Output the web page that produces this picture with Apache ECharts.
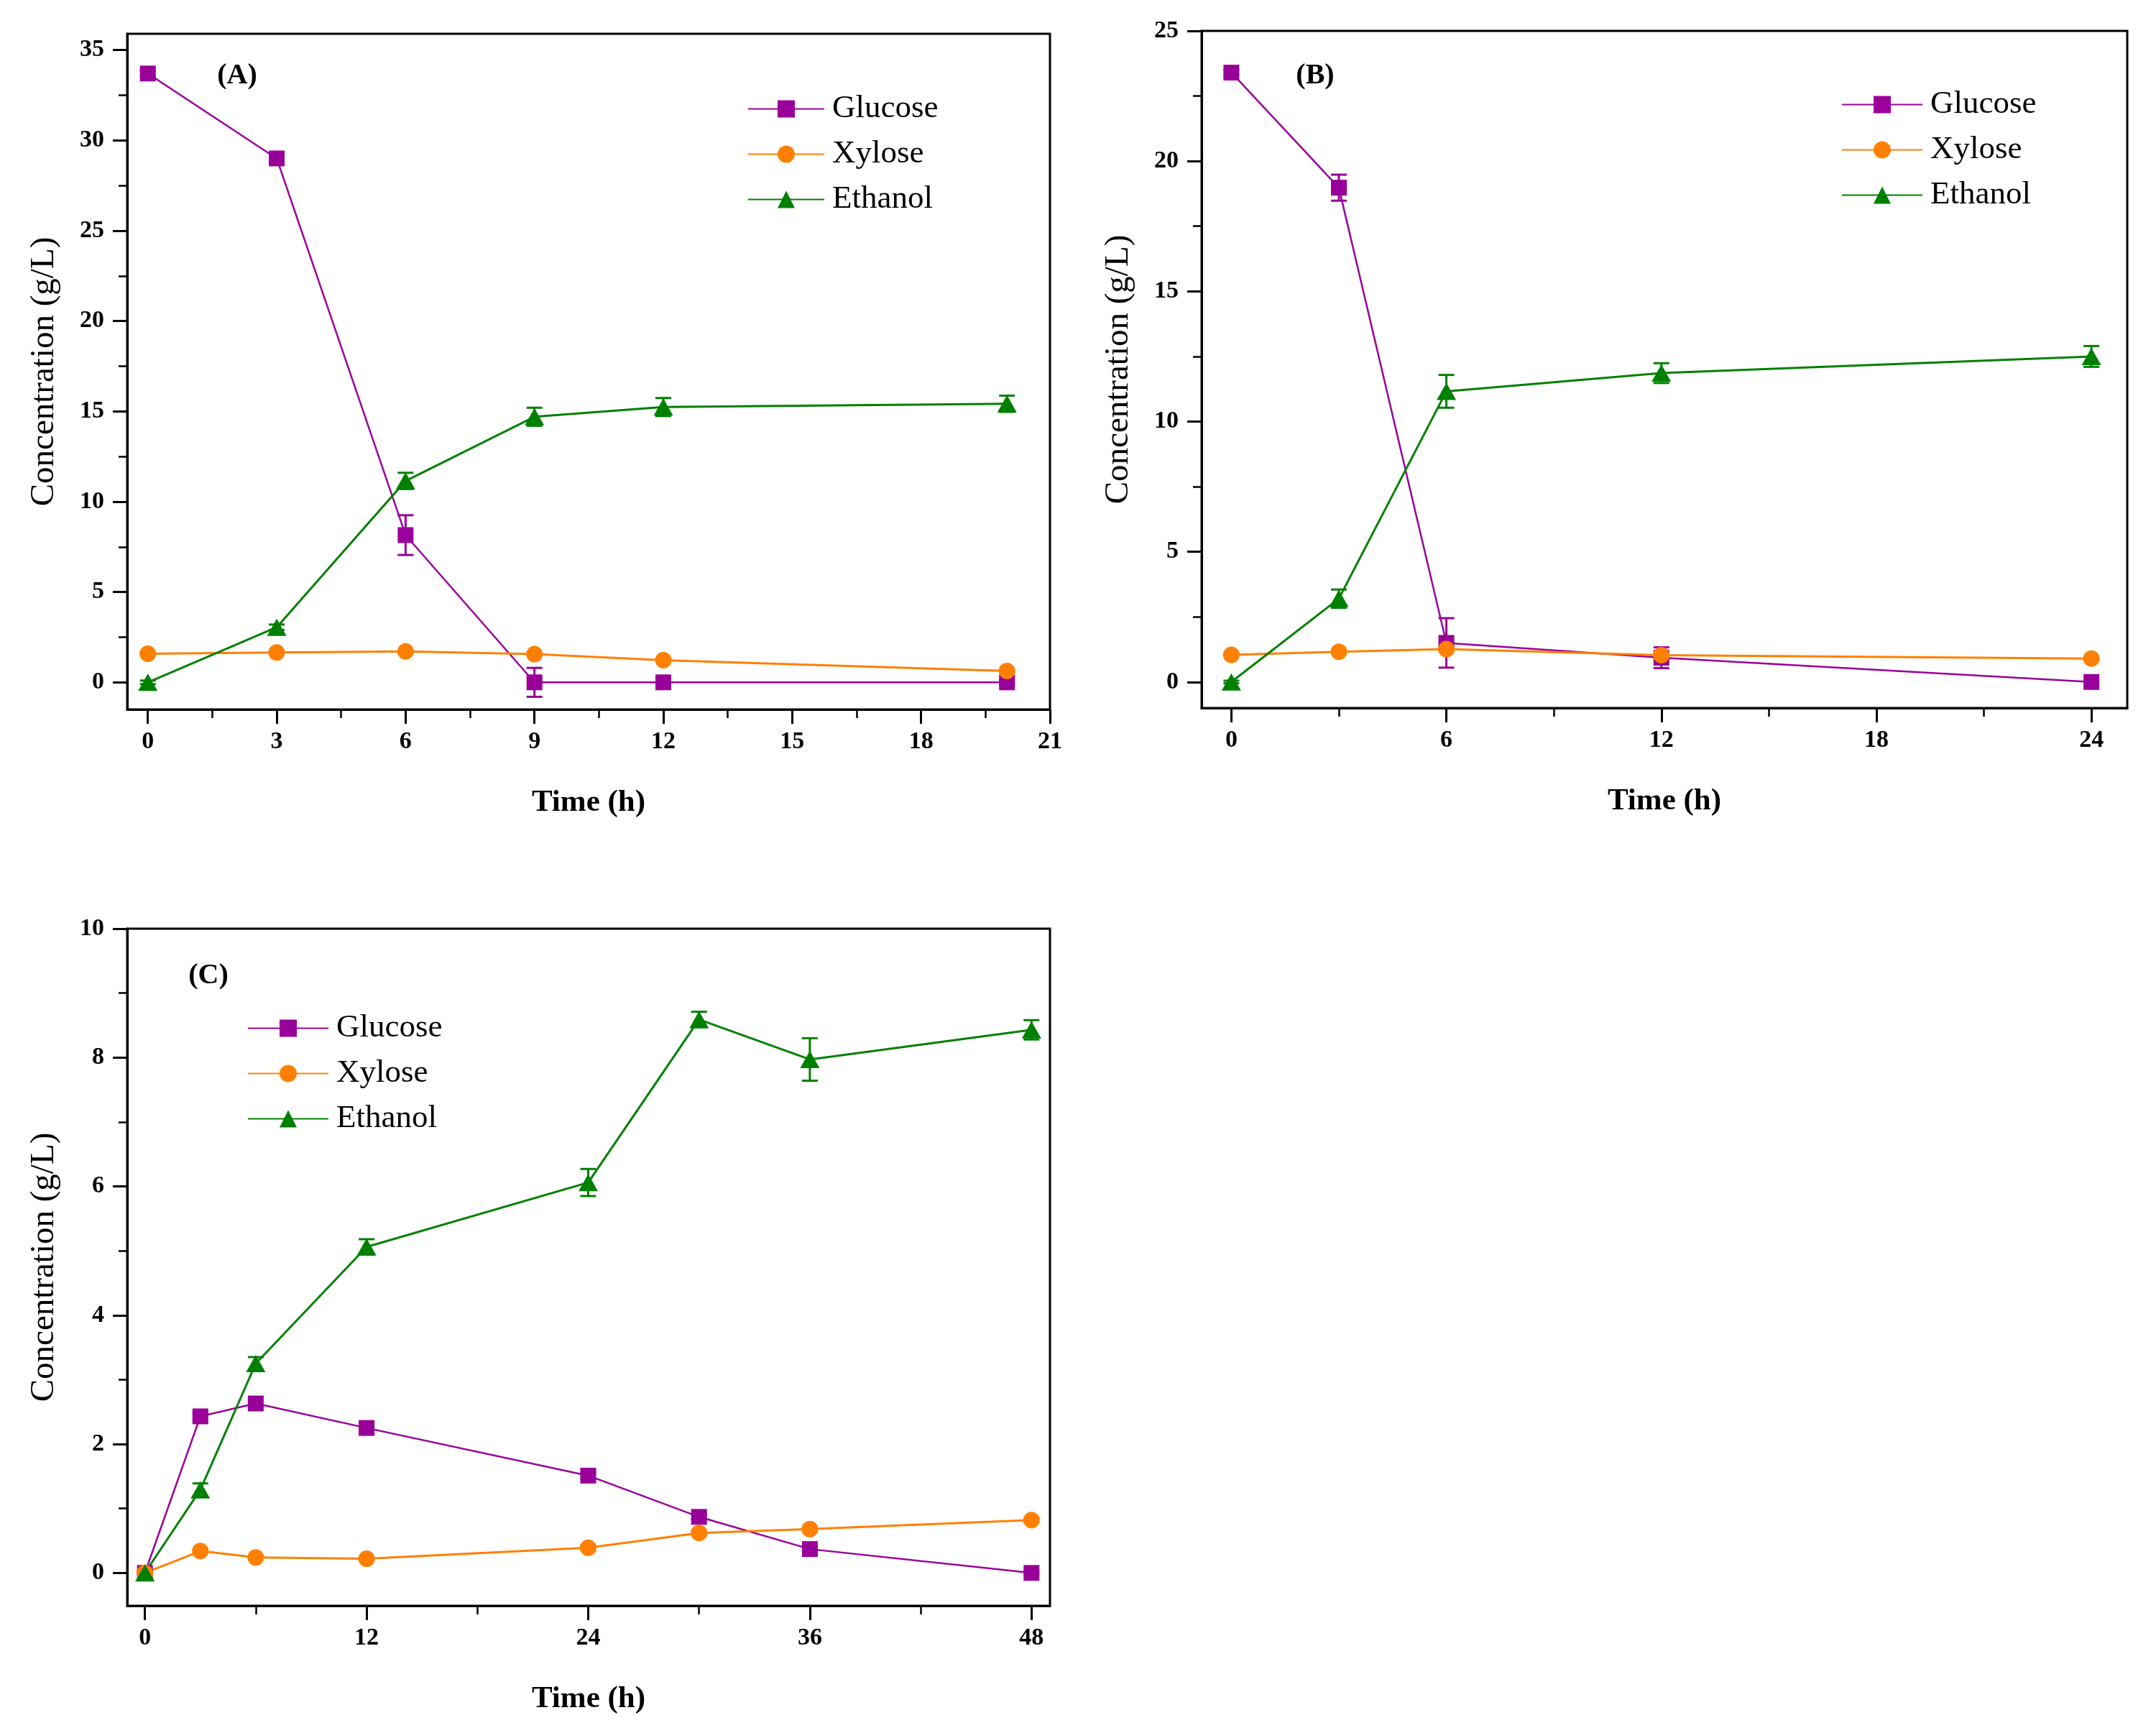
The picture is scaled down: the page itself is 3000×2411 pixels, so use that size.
<!DOCTYPE html>
<html>
<head>
<meta charset="utf-8">
<script src="https://cdn.jsdelivr.net/npm/echarts@6/dist/echarts.min.js"></script>
<style>
html,body{margin:0;padding:0;background:#fff;}
#chart{width:3000px;height:2411px;}
</style>
</head>
<body>
<div id="chart"></div>
<script>
// ---------------- DATA ----------------
const seriesNames = ['Glucose', 'Xylose', 'Ethanol'];

// Panel A
const timeA = [0, 3, 6, 9, 12, 20];
const glucoseA = [33.7, 29.0, 8.15, 0.0, 0.0, 0.0];
const glucoseErrA = [0.15, 0.35, 1.1, 0.8, 0.1, 0.1];
const xyloseA = [1.58, 1.65, 1.71, 1.56, 1.23, 0.63];
const xyloseErrA = [0.05, 0.05, 0.08, 0.06, 0.05, 0.05];
const ethanolA = [0.0, 3.05, 11.15, 14.7, 15.24, 15.42];
const ethanolErrA = [0.1, 0.15, 0.45, 0.5, 0.5, 0.45];
const xTicksA = [0, 3, 6, 9, 12, 15, 18, 21];
const xMinorA = [1.5, 4.5, 7.5, 10.5, 13.5, 16.5, 19.5];
const yTicksA = [0, 5, 10, 15, 20, 25, 30, 35];
const yMinorA = [2.5, 7.5, 12.5, 17.5, 22.5, 27.5, 32.5];

// Panel B
const timeB = [0, 3, 6, 12, 24];
const glucoseB = [23.4, 18.98, 1.5, 0.93, 0.0];
const glucoseErrB = [0.1, 0.5, 0.95, 0.4, 0.05];
const xyloseB = [1.04, 1.16, 1.26, 1.03, 0.9];
const xyloseErrB = [0.05, 0.05, 0.1, 0.15, 0.05];
const ethanolB = [0.0, 3.2, 11.16, 11.86, 12.5];
const ethanolErrB = [0.05, 0.35, 0.63, 0.38, 0.4];
const xTicksB = [0, 6, 12, 18, 24];
const xMinorB = [3, 9, 15, 21];
const yTicksB = [0, 5, 10, 15, 20, 25];
const yMinorB = [2.5, 7.5, 12.5, 17.5, 22.5];

// Panel C
const timeC = [0, 3, 6, 12, 24, 30, 36, 48];
const glucoseC = [0.0, 2.43, 2.63, 2.25, 1.51, 0.87, 0.37, 0.0];
const glucoseErrC = [0.02, 0.05, 0.05, 0.08, 0.05, 0.04, 0.04, 0.02];
const xyloseC = [0.0, 0.34, 0.24, 0.22, 0.39, 0.62, 0.68, 0.82];
const xyloseErrC = [0.02, 0.03, 0.03, 0.03, 0.04, 0.04, 0.04, 0.04];
const ethanolC = [0.0, 1.29, 3.25, 5.06, 6.06, 8.59, 7.97, 8.43];
const ethanolErrC = [0.02, 0.1, 0.1, 0.12, 0.21, 0.12, 0.33, 0.15];
const xTicksC = [0, 12, 24, 36, 48];
const xMinorC = [6, 18, 30, 42];
const yTicksC = [0, 2, 4, 6, 8, 10];
const yMinorC = [1, 3, 5, 7, 9];

const panelLabels = ['(A)', '(B)', '(C)'];
const xTitle = 'Time (h)';
const yTitle = 'Concentration (g/L)';

// ---------------- STYLE / LAYOUT ----------------
const FONT = 'Liberation Serif';
const colors = { Glucose: '#990099', Xylose: '#FF8000', Ethanol: '#008000' };
const symbols = { Glucose: 'rect', Xylose: 'circle', Ethanol: 'triangle' };
const symbolSizes = { Glucose: 22, Xylose: 23, Ethanol: [27, 24] };
const lineWidths = { Glucose: 2.5, Xylose: 3, Ethanol: 3 };

const panels = [
  {
    grid: { left: 177, right: 1539, top: 47, bottom: 1424 },
    xMin: -0.48, xMax: 21, yMin: -1.5, yMax: 35.9,
    time: timeA,
    vals: { Glucose: glucoseA, Xylose: xyloseA, Ethanol: ethanolA },
    errs: { Glucose: glucoseErrA, Xylose: xyloseErrA, Ethanol: ethanolErrA },
    xTicks: xTicksA, xMinor: xMinorA, yTicks: yTicksA, yMinor: yMinorA,
    legend: { left: 1040, top: 129, itemWidth: 106 },
    label: { x: 330, y: 106 }
  },
  {
    grid: { left: 1672, right: 40, top: 43, bottom: 1426 },
    xMin: -0.83, xMax: 25, yMin: -1.0, yMax: 25,
    time: timeB,
    vals: { Glucose: glucoseB, Xylose: xyloseB, Ethanol: ethanolB },
    errs: { Glucose: glucoseErrB, Xylose: xyloseErrB, Ethanol: ethanolErrB },
    xTicks: xTicksB, xMinor: xMinorB, yTicks: yTicksB, yMinor: yMinorB,
    legend: { left: 2562, top: 123, itemWidth: 112 },
    label: { x: 1830, y: 106 }
  },
  {
    grid: { left: 177, right: 1539, top: 1292, bottom: 177 },
    xMin: -0.96, xMax: 49, yMin: -0.51, yMax: 10,
    time: timeC,
    vals: { Glucose: glucoseC, Xylose: xyloseC, Ethanol: ethanolC },
    errs: { Glucose: glucoseErrC, Xylose: xyloseErrC, Ethanol: ethanolErrC },
    xTicks: xTicksC, xMinor: xMinorC, yTicks: yTicksC, yMinor: yMinorC,
    legend: { left: 344, top: 1408, itemWidth: 112 },
    label: { x: 290, y: 1358 }
  }
];

const option = {
  backgroundColor: '#ffffff',
  animation: false,
  grid: [], xAxis: [], yAxis: [], series: [], legend: [], graphic: []
};

function errRender(color) {
  return function (params, api) {
    const x = api.value(0), lo = api.value(1), hi = api.value(2);
    const pHi = api.coord([x, hi]);
    const pLo = api.coord([x, lo]);
    const w = 11;
    const st = { stroke: color, lineWidth: 3 };
    return {
      type: 'group',
      children: [
        { type: 'line', shape: { x1: pHi[0], y1: pHi[1], x2: pLo[0], y2: pLo[1] }, style: st },
        { type: 'line', shape: { x1: pHi[0] - w, y1: pHi[1], x2: pHi[0] + w, y2: pHi[1] }, style: st },
        { type: 'line', shape: { x1: pLo[0] - w, y1: pLo[1], x2: pLo[0] + w, y2: pLo[1] }, style: st }
      ]
    };
  };
}

panels.forEach(function (p, i) {
  option.grid.push(Object.assign({
    show: true, borderColor: '#000', borderWidth: 3, backgroundColor: 'transparent', containLabel: false
  }, p.grid));

  // major x axis
  option.xAxis.push({
    type: 'value', gridIndex: i, min: p.xMin, max: p.xMax, position: 'bottom',
    name: xTitle, nameLocation: 'middle', nameGap: 108,
    nameTextStyle: { fontFamily: FONT, fontSize: 43, fontWeight: 'bold', color: '#000' },
    axisLine: { show: true, onZero: false, lineStyle: { color: '#000', width: 3 } },
    axisTick: { show: true, customValues: p.xTicks, length: 20, lineStyle: { color: '#000', width: 3 } },
    axisLabel: { show: true, customValues: p.xTicks, margin: 28, fontFamily: FONT, fontSize: 34, fontWeight: 'bold', color: '#000' },
    splitLine: { show: false }
  });
  // minor x axis
  option.xAxis.push({
    type: 'value', gridIndex: i, min: p.xMin, max: p.xMax, position: 'bottom',
    axisLine: { show: false, onZero: false },
    axisTick: { show: true, customValues: p.xMinor, length: 12, lineStyle: { color: '#000', width: 2.5 } },
    axisLabel: { show: false, customValues: p.xMinor },
    splitLine: { show: false }
  });
  // major y axis
  option.yAxis.push({
    type: 'value', gridIndex: i, min: p.yMin, max: p.yMax, position: 'left',
    name: yTitle, nameLocation: 'middle', nameGap: 92, nameRotate: 90,
    nameTextStyle: { fontFamily: FONT, fontSize: 47, color: '#000' },
    axisLine: { show: true, onZero: false, lineStyle: { color: '#000', width: 3 } },
    axisTick: { show: true, customValues: p.yTicks, length: 20, lineStyle: { color: '#000', width: 3 } },
    axisLabel: { show: true, customValues: p.yTicks, margin: 32, fontFamily: FONT, fontSize: 34, fontWeight: 'bold', color: '#000' },
    splitLine: { show: false }
  });
  // minor y axis
  option.yAxis.push({
    type: 'value', gridIndex: i, min: p.yMin, max: p.yMax, position: 'left',
    axisLine: { show: false, onZero: false },
    axisTick: { show: true, customValues: p.yMinor, length: 12, lineStyle: { color: '#000', width: 2.5 } },
    axisLabel: { show: false, customValues: p.yMinor },
    splitLine: { show: false }
  });

  seriesNames.forEach(function (name) {
    const t = p.time, v = p.vals[name], e = p.errs[name];
    option.series.push({
      type: 'custom', name: name + ' error', xAxisIndex: 2 * i, yAxisIndex: 2 * i,
      renderItem: errRender(colors[name]),
      encode: { x: 0, y: [1, 2] },
      data: t.map(function (tt, k) { return [tt, v[k] - e[k], v[k] + e[k]]; }),
      z: 2, silent: true
    });
  });
  seriesNames.forEach(function (name) {
    const t = p.time, v = p.vals[name];
    option.series.push({
      type: 'line', name: name, xAxisIndex: 2 * i, yAxisIndex: 2 * i,
      data: t.map(function (tt, k) { return [tt, v[k]]; }),
      symbol: symbols[name], symbolSize: symbolSizes[name], showSymbol: true,
      color: colors[name],
      itemStyle: { color: colors[name] },
      lineStyle: { color: colors[name], width: lineWidths[name] },
      clip: false, z: 3
    });
  });

  option.legend.push({
    data: seriesNames, orient: 'vertical',
    left: p.legend.left, top: p.legend.top,
    itemWidth: p.legend.itemWidth, itemHeight: 30, itemGap: 18,
    padding: 0, selectedMode: false,
    textStyle: { fontFamily: FONT, fontSize: 45, color: '#000', lineHeight: 44, padding: [0, 0, 0, 6] }
  });

  option.graphic.push({
    type: 'text', x: p.label.x, y: p.label.y,
    style: {
      text: panelLabels[i], fontFamily: FONT, fontSize: 40, fontWeight: 'bold',
      fill: '#000', textAlign: 'center', textVerticalAlign: 'middle'
    }
  });
});

const chart = echarts.init(document.getElementById('chart'), null, { renderer: 'canvas' });
chart.setOption(option);
</script>
</body>
</html>
